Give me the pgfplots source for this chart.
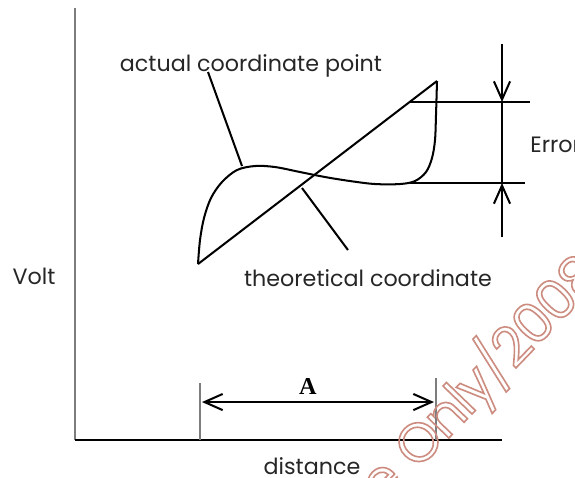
\documentclass[border=0pt]{standalone}
\usepackage{pgfplots}
\pgfplotsset{compat=1.18}
\usepackage{fontspec}
\setmainfont{Poppins}
\newfontfamily\serifA{Liberation Serif}
\newfontfamily\wmfont[LetterSpace=-3]{Poppins}
\usetikzlibrary{arrows.meta}
\definecolor{axisgray}{RGB}{125,125,125}
\definecolor{wmark}{RGB}{205,140,128}
\tikzset{
    lbl/.style={font=\fontsize{11}{13}\selectfont, text=black!85, inner sep=0pt},
    wm/.style={rotate=46, wmark, inner sep=0pt, font=\wmfont\fontsize{27}{27}\selectfont},
    barb/.style={-{Straight Barb[length=9pt, width=8pt]}},
    dbarb/.style={{Straight Barb[length=9pt, width=8pt]}-{Straight Barb[length=9pt, width=8pt]}},
}
\newcommand{\outline}[1]{\special{pdf:code q 1 Tr 0.8 w}#1\special{pdf:code Q}}

\begin{document}
\begin{tikzpicture}
\begin{axis}[
    width=10cm, height=8.296cm, scale only axis,
    xmin=0, xmax=575, ymin=0, ymax=477, y dir=reverse,
    hide axis, clip=false, no markers,
    cycle list={{black}},
    every axis plot/.append style={line width=1pt},
]
\coordinate (BL) at (axis cs:0,477);
\coordinate (TR) at (axis cs:575,0);

% axes
\addplot[axisgray] coordinates {(75,8) (75,440)};
\addplot[black] coordinates {(75,440) (502,440)};

% theoretical line
\addplot[black] coordinates {(198,264) (437,81)};

% actual curve
\addplot[black, smooth, tension=0.55] coordinates {
    (198,264) (200,240) (204,218) (211,198) (222,182) (237,170)
    (255,166) (275,167) (300,172) (325,177) (350,181) (375,184)
    (400,184) (415,181) (426,172) (432,158) (435,140) (436,115) (437,81)
};

% leader lines
\addplot[black] coordinates {(208,72) (242,166)};
\addplot[black] coordinates {(302,188) (348,250)};

% error markers
\addplot[black] coordinates {(410,102) (530,102)};
\addplot[black] coordinates {(410,183) (525,183)};
\addplot[black] coordinates {(502,102) (502,183)};
\addplot[black, barb] coordinates {(502,44) (502,102)};
\addplot[black, barb] coordinates {(502,237) (502,183)};

% span A
\addplot[axisgray] coordinates {(200,383) (200,440)};
\addplot[axisgray] coordinates {(436,378) (436,440)};
\addplot[black, dbarb] coordinates {(202,402) (434,402)};

% labels
\node[lbl] at (axis cs:251,66) {actual coordinate point};
\node[lbl] at (axis cs:368,278) {theoretical coordinate};
\node[lbl] at (axis cs:34,276) {Volt};
\node[lbl] at (axis cs:312,466) {distance};
\node[lbl, anchor=west] at (axis cs:530,145) {Error};
\node[inner sep=0pt, font=\serifA\fontsize{12}{12}\selectfont\bfseries] at (axis cs:308,386) {A};

% watermark
\node[wm, anchor=base east] at (axis cs:406,481) {\outline{Use}};
\node[wm, anchor=base west] at (axis cs:417,471) {\outline{Only/2008}};
\end{axis}
\pgfresetboundingbox
\path (BL) rectangle (TR);
\end{tikzpicture}
\end{document}
